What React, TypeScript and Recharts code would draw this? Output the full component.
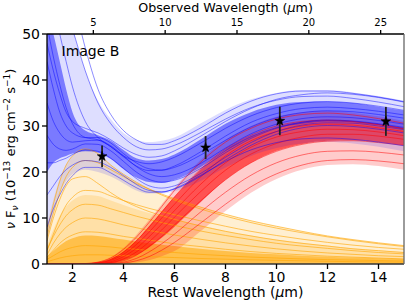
import React from 'react';
import { ComposedChart, Line, Area, XAxis, YAxis, Scatter, ErrorBar } from 'recharts';

// Rest wavelength grid (µm)
const X = [1, 1.25, 1.5, 1.75, 2, 2.5, 3, 3.5, 4, 4.5, 5, 5.5, 6, 7, 8, 9, 10, 11, 12, 13, 14, 15];

// Hot-dust (orange) component samples
const O0 = [7, 13, 18, 21.5, 23.5, 25, 24, 21.5, 19.5, 17.8, 16.3, 15, 13.9, 12, 10.4, 9, 7.8, 6.8, 5.9, 5.1, 4.4, 3.8];
const O1 = [6, 11, 15.5, 19, 21, 22.5, 22, 20.5, 19, 17.5, 16.3, 15.2, 14.2, 12.4, 10.8, 9.4, 8.2, 7.1, 6.1, 5.3, 4.6, 4.0];
const O2 = [5, 10, 14, 17, 18.5, 19, 17.5, 15.5, 13.8, 12.5, 11.4, 10.5, 9.7, 8.3, 7.1, 6.1, 5.2, 4.5, 3.9, 3.3, 2.9, 2.5];
const O3 = [3, 6.5, 10, 12.8, 14.5, 16, 15.8, 14.8, 13.8, 12.9, 12.1, 11.4, 10.7, 9.4, 8.2, 7.1, 6.2, 5.4, 4.7, 4.1, 3.6, 3.2];
const O4 = [3, 6, 8.5, 10.5, 11.8, 13, 12.8, 12, 11.2, 10.4, 9.7, 9, 8.4, 7.2, 6.2, 5.3, 4.5, 3.9, 3.4, 2.9, 2.5, 2.2];
const O5 = [2, 4.5, 6.5, 8, 9, 10, 9.8, 9.2, 8.5, 7.9, 7.3, 6.8, 6.3, 5.4, 4.6, 3.9, 3.3, 2.8, 2.4, 2.1, 1.8, 1.6];
const O6 = [1.5, 3, 4.5, 5.6, 6.3, 7, 6.9, 6.5, 6, 5.6, 5.2, 4.8, 4.4, 3.8, 3.2, 2.7, 2.3, 2, 1.7, 1.5, 1.3, 1.1];
const O7 = [1, 1.8, 2.6, 3.2, 3.6, 4, 3.9, 3.7, 3.4, 3.2, 2.9, 2.7, 2.5, 2.1, 1.8, 1.5, 1.3, 1.1, 0.95, 0.85, 0.75, 0.65];
const O8 = [0.5, 0.9, 1.3, 1.6, 1.8, 2, 2, 1.9, 1.8, 1.7, 1.6, 1.5, 1.4, 1.2, 1.05, 0.9, 0.8, 0.7, 0.6, 0.5, 0.45, 0.4];
const O_HI = [8.5, 14, 18.5, 21.5, 23.5, 25, 24, 21.5, 19.5, 17.8, 16.3, 15, 14.2, 12.5, 10.8, 9.4, 8.2, 7.1, 6.1, 5.3, 4.6, 4.0];
const O_MID = [4, 7.5, 10.5, 12.5, 13.8, 15, 14.8, 13.8, 12.8, 11.9, 11.1, 10.4, 9.7, 8.4, 7.2, 6.2, 5.3, 4.6, 4.0, 3.4, 3.0, 2.6];
const O_LOW = [1.5, 2.8, 4, 5, 5.6, 6.2, 6.1, 5.7, 5.3, 4.9, 4.5, 4.2, 3.9, 3.3, 2.8, 2.4, 2.1, 1.8, 1.6, 1.4, 1.25, 1.1];

// Cold-dust (red) component samples
const R1 = [0, 0, 0, 0, 0, 0.1, 0.4, 1.3, 3.2, 5.8, 9, 12.5, 16, 22, 26.5, 29.5, 31.5, 32.5, 32.8, 32.4, 31.6, 30.6];
const R2 = [0, 0, 0, 0, 0, 0.05, 0.3, 1, 2.6, 5, 8, 11.3, 14.6, 20.5, 25, 28, 30, 31, 31.3, 31, 30.3, 29.4];
const R3 = [0, 0, 0, 0, 0, 0, 0.2, 0.8, 2.1, 4.2, 6.9, 10, 13, 18.8, 23.5, 26.8, 28.8, 30, 30.4, 30.2, 29.6, 28.8];
const R4 = [0, 0, 0, 0, 0, 0, 0.1, 0.5, 1.6, 3.4, 5.9, 8.7, 11.6, 17.2, 22, 25.4, 27.6, 28.8, 29.3, 29.2, 28.7, 27.9];
const R5 = [0, 0, 0, 0, 0, 0, 0.05, 0.3, 1.1, 2.6, 4.8, 7.4, 10.2, 15.6, 20.4, 23.9, 26.2, 27.6, 28.2, 28.2, 27.8, 27.1];
const R6 = [0, 0, 0, 0, 0, 0, 0, 0.2, 0.7, 1.9, 3.8, 6, 8.5, 13.6, 18.3, 22, 24.5, 26, 26.7, 26.8, 26.4, 25.8];
const R7 = [0, 0, 0, 0, 0, 0, 0, 0.1, 0.4, 1.2, 2.6, 4.4, 6.5, 11.2, 15.6, 19.3, 22, 23.7, 24.5, 24.6, 24.3, 23.7];
const R8 = [0, 0, 0, 0, 0, 0, 0, 0.05, 0.2, 0.7, 1.6, 3, 4.7, 8.8, 13, 16.8, 19.6, 21.5, 22.5, 22.7, 22.4, 21.8];
const R_HI = [0, 0, 0, 0, 0, 0.15, 0.5, 1.5, 3.5, 6.3, 9.6, 13, 16.5, 22.5, 27, 30, 32, 33, 33.3, 32.9, 32.1, 31.1];
const R_LO = [0, 0, 0, 0, 0, 0, 0, 0, 0.1, 0.3, 0.8, 1.7, 2.8, 7, 11.5, 15.5, 18.5, 20.5, 21.5, 21.7, 21.3, 20.5];
const R_CORE_HI = [0, 0, 0, 0, 0, 0.1, 0.3, 1.1, 2.7, 5.1, 8.2, 11.4, 14.6, 20.4, 24.8, 27.8, 29.8, 30.9, 31.3, 31.1, 30.5, 29.6];
const R_CORE_LO = [0, 0, 0, 0, 0, 0, 0.05, 0.2, 0.8, 1.9, 3.6, 5.7, 8.1, 13.3, 18.3, 22, 24.6, 26.1, 26.8, 26.9, 26.5, 25.8];

// Total model (blue) samples
const B0 = [62, 62, 62, 62, 58, 47, 38, 32.5, 29, 27, 26, 26, 26.8, 29.5, 32.8, 35.4, 37, 37.6, 37.6, 37.1, 36.3, 35.3];
const B1 = [60, 60, 58, 55, 51, 42, 35, 30.5, 27.5, 25.5, 24.8, 25, 25.8, 28.5, 31.5, 34, 35.6, 36.4, 36.5, 36, 35.2, 34.2];
const B2 = [60, 56, 50, 44, 38.5, 31, 27.5, 25.5, 23.5, 22.3, 21.8, 22.2, 23.2, 26.2, 29.5, 32.2, 34, 35, 35.3, 35, 34.3, 33.4];
const B3 = [52, 45, 39, 34, 30.5, 27.5, 27, 25.5, 23.3, 21.3, 20.3, 20.4, 21.3, 24.3, 27.8, 30.8, 32.7, 33.8, 34.1, 33.8, 33.2, 32.4];
const B4 = [44, 38, 33, 30, 28.5, 27.5, 27.5, 26.3, 24, 22, 20.7, 20.4, 21, 23.6, 26.9, 29.8, 31.8, 32.9, 33.3, 33.1, 32.5, 31.7];
const B5 = [35, 31, 28.5, 27, 26.5, 26.8, 26.9, 25.7, 23.5, 21.2, 19.6, 19, 19.4, 21.8, 25.2, 28.3, 30.4, 31.6, 32, 31.8, 31.2, 30.4];
const B6 = [28, 26, 25, 24.7, 25, 26.1, 26, 24.6, 22.3, 20, 18.4, 17.8, 18.2, 20.7, 24.2, 27.3, 29.5, 30.8, 31.3, 31.1, 30.5, 29.7];
const B7 = [22, 22, 22.5, 23, 23.8, 24.8, 24.5, 23, 20.8, 18.6, 17, 16.5, 17, 19.6, 23.2, 26.4, 28.8, 30.2, 30.7, 30.6, 30, 29.2];
const B8 = [15, 17, 19, 20.5, 21.5, 22.5, 22.2, 21, 19.2, 17.3, 16, 15.7, 16.3, 19, 22.6, 25.8, 28.2, 29.6, 30.1, 29.9, 29.3, 28.5];
const B9 = [8, 12, 15, 17.5, 19.2, 21, 21, 19.8, 18.2, 16.6, 15.6, 15.6, 16.4, 19.2, 22.3, 24.8, 26.4, 27.2, 27.4, 27.1, 26.5, 25.7];
const B10 = [48, 42, 37, 33, 31, 29.5, 28.5, 27, 25.2, 23.8, 23.2, 23.5, 24.6, 27.7, 31, 33.8, 35.8, 36.8, 37.2, 36.9, 36.2, 35.2];
const B_HI = [62, 62, 62, 60, 52, 42, 35.5, 31.5, 28.5, 27, 26.5, 26.8, 27.5, 30.5, 33.5, 35.8, 37.2, 37.8, 37.8, 37.3, 36.5, 35.5];
const B_LO = [5, 11, 15.5, 18, 19.5, 20.5, 20, 19, 17.5, 16, 15.3, 15.3, 15.8, 18, 21, 23.5, 25.2, 26.2, 26.5, 26.2, 25.5, 24.5];
const B_CORE_HI = [55, 50, 44, 38, 33, 29, 28, 26.8, 24.8, 23, 22.5, 22.8, 23.8, 27, 30.5, 33, 34.6, 35.2, 35.3, 35, 34.2, 33.3];
const B_CORE_LO = [20, 22, 23, 23.5, 24, 24.5, 24.2, 22.8, 20.6, 18.8, 17.8, 17.6, 18.3, 21, 24.5, 27.5, 29.5, 30.5, 31, 30.8, 30.2, 29.3];

// Photometry
const PT_X = [3.16, 7.22, 10.13, 14.29];
const PT_Y = [23.4, 25.3, 31.1, 31.0];
const PT_ERR = [2.35, 2.5, 3.1, 3.15];

const REST_TICKS = [2, 4, 6, 8, 10, 12, 14];
const Y_TICKS = [0, 10, 20, 30, 40, 50];
const OBS_TICKS = [5, 10, 15, 20, 25];
const ONE_PLUS_Z = 1.775;

const ORANGE = { O0, O1, O2, O3, O4, O5, O6, O7, O8 };
const RED = { R1, R2, R3, R4, R5, R6, R7, R8 };
const BLUE = { B0, B1, B2, B3, B4, B5, B6, B7, B8, B9, B10 };

const rows = X.map((x, i) => {
  const r: any = { x };
  Object.entries(ORANGE).forEach(([k, a]) => (r[k] = a[i]));
  Object.entries(RED).forEach(([k, a]) => (r[k] = a[i]));
  Object.entries(BLUE).forEach(([k, a]) => (r[k] = a[i]));
  r.oHi = O_HI[i]; r.oMid = O_MID[i]; r.oLow = O_LOW[i];
  r.rBand = [R_LO[i], R_HI[i]]; r.rCore = [R_CORE_LO[i], R_CORE_HI[i]];
  r.bBand = [B_LO[i], B_HI[i]]; r.bCore = [B_CORE_LO[i], B_CORE_HI[i]];
  return r;
});

const points = PT_X.map((x, i) => ({ x, y: PT_Y[i], err: PT_ERR[i] }));

const FONT = 'DejaVu Sans';
const axisLine = { stroke: '#000', strokeWidth: 1.3 };
const tickLine = { stroke: '#000', strokeWidth: 1.3 };

const Star = (props: any) => {
  const { cx, cy } = props;
  if (cx == null || cy == null) return null;
  const R = 5.2, r = 2.1;
  const pts: string[] = [];
  for (let k = 0; k < 10; k++) {
    const ang = -Math.PI / 2 + (k * Math.PI) / 5;
    const rad = k % 2 === 0 ? R : r;
    pts.push(`${cx + rad * Math.cos(ang)},${cy + rad * Math.sin(ang)}`);
  }
  return <polygon points={pts.join(' ')} fill="#000" stroke="#000" strokeWidth={0.5} />;
};

export default function App() {
  const W = 407, H = 305;
  return (
    <div style={{ position: 'absolute', left: 0, top: 0, width: W, height: H, background: '#fff' }}>
      <ComposedChart width={W} height={H} data={rows} margin={{ top: 0, right: 0, bottom: 0, left: 0 }}>
        <XAxis xAxisId={0} dataKey="x" type="number" domain={[1, 15]} allowDataOverflow ticks={REST_TICKS}
          height={41} axisLine={{ stroke: '#333', strokeWidth: 1.3 }} tickLine={tickLine} tickSize={5} tickMargin={3}
          tick={{ fill: '#000', fontSize: 14, fontFamily: FONT }} interval={0} />
        <XAxis xAxisId="top" orientation="top" dataKey="x" type="number" domain={[1, 15]} allowDataOverflow
          ticks={OBS_TICKS.map((v) => v / ONE_PLUS_Z)} tickFormatter={(v: number) => String(Math.round(v * ONE_PLUS_Z))}
          height={34} axisLine={axisLine} tickLine={tickLine} tickSize={4} tickMargin={4}
          tick={{ fill: '#000', fontSize: 10, fontFamily: FONT }} interval={0} />
        <YAxis yAxisId={0} type="number" domain={[0, 50]} allowDataOverflow ticks={Y_TICKS} width={47}
          axisLine={axisLine} tickLine={tickLine} tickSize={5} tickMargin={2}
          tick={{ fill: '#000', fontSize: 14, fontFamily: FONT }} interval={0} />
        <YAxis yAxisId="right" orientation="right" type="number" domain={[0, 50]} width={3}
          axisLine={{ stroke: '#666', strokeWidth: 1.3 }} tick={false} tickLine={false} />

        <Area dataKey="oHi" type="monotone" stroke="none" fill="#ffa500" fillOpacity={0.18} isAnimationActive={false} />
        <Area dataKey="oMid" type="monotone" stroke="none" fill="#ffa500" fillOpacity={0.2} isAnimationActive={false} />
        <Area dataKey="oLow" type="monotone" stroke="none" fill="#ffa500" fillOpacity={0.55} isAnimationActive={false} />
        {Object.keys(ORANGE).map((k) => (
          <Line key={k} dataKey={k} type="monotone" stroke="#ffa500" strokeOpacity={0.6} strokeWidth={1} dot={false} isAnimationActive={false} />
        ))}

        <Area dataKey="rBand" type="monotone" stroke="none" fill="#ff0000" fillOpacity={0.2} isAnimationActive={false} />
        <Area dataKey="rCore" type="monotone" stroke="none" fill="#ff0000" fillOpacity={0.6} isAnimationActive={false} />
        {Object.keys(RED).map((k) => (
          <Line key={k} dataKey={k} type="monotone" stroke="#ff0000" strokeOpacity={0.5} strokeWidth={1} dot={false} isAnimationActive={false} />
        ))}

        <Area dataKey="bBand" type="monotone" stroke="none" fill="#0000ff" fillOpacity={0.13} isAnimationActive={false} />
        <Area dataKey="bCore" type="monotone" stroke="none" fill="#0000ff" fillOpacity={0.45} isAnimationActive={false} />
        {Object.keys(BLUE).map((k) => (
          <Line key={k} dataKey={k} type="monotone" stroke="#0000ff" strokeOpacity={0.45} strokeWidth={1} dot={false} isAnimationActive={false} />
        ))}

        <Scatter data={points} dataKey="y" shape={<Star />} isAnimationActive={false}>
          <ErrorBar dataKey="err" direction="y" width={0} stroke="#222" strokeWidth={1.8} />
        </Scatter>
      </ComposedChart>
      <svg width={W} height={H} style={{ position: 'absolute', left: 0, top: 0, pointerEvents: 'none' }} fontFamily={FONT}>
        <text x={225.5} y={11.7} fontSize={12.7} textAnchor="middle" fill="#000">
          Observed Wavelength (<tspan fontStyle="italic">μ</tspan>m)
        </text>
        <text x={225.5} y={297} fontSize={14} textAnchor="middle" fill="#000">
          Rest Wavelength (<tspan fontStyle="italic">μ</tspan>m)
        </text>
        <text x={61.5} y={55.7} fontSize={14} fill="#000">Image B</text>
        <text transform="translate(14.5,149) rotate(-90)" fontSize={13} textAnchor="middle" fill="#000">
          <tspan fontStyle="italic">ν</tspan> F<tspan fontSize={9} dy={3} fontStyle="italic">ν</tspan>
          <tspan dy={-3}> (10</tspan><tspan fontSize={9} dy={-5}>−13</tspan>
          <tspan dy={5}> erg cm</tspan><tspan fontSize={9} dy={-5}>−2</tspan>
          <tspan dy={5}> s</tspan><tspan fontSize={9} dy={-5}>−1</tspan><tspan dy={5}>)</tspan>
        </text>
      </svg>
    </div>
  );
}
